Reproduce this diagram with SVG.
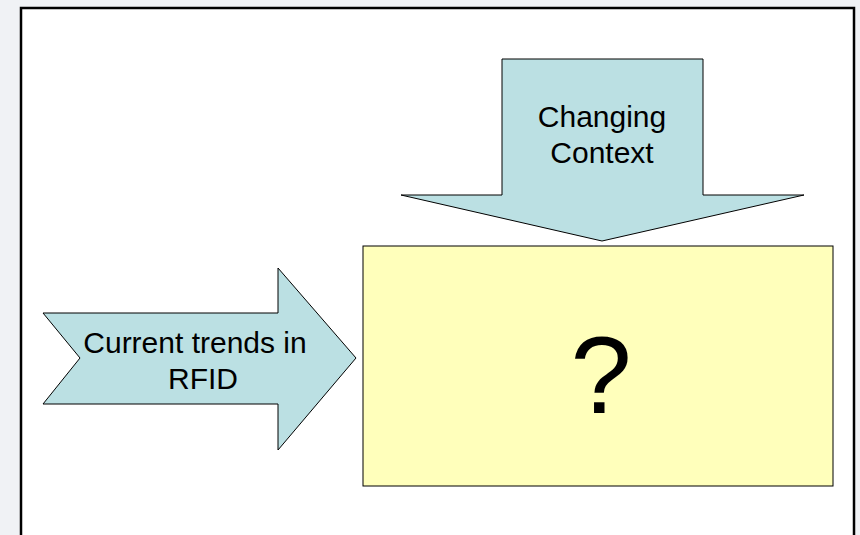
<svg xmlns="http://www.w3.org/2000/svg" width="860" height="535" viewBox="0 0 860 535">
<style>
.arrow{fill:#bbe0e3;stroke:#000;stroke-width:1}
.lbl{font-family:"Liberation Sans",Arial,sans-serif;font-size:30px;fill:#000;text-anchor:middle}
</style>
<rect x="0" y="0" width="860" height="535" fill="#f0f2f5"/>
<rect x="21" y="8" width="833" height="540" fill="#fff" stroke="#000" stroke-width="2.5"/>
<g id="box">
<rect x="363" y="246" width="470" height="240" fill="#ffffbb" stroke="#000" stroke-width="1"/>
<text x="601" y="413" font-family="Liberation Sans,Arial,sans-serif" font-size="110" text-anchor="middle">?</text>
</g>
<g id="context">
<polygon class="arrow" points="502,59 703,59 703,195 804,195 602,241 401,195 502,195"/>
<text class="lbl" x="602" y="127">Changing</text>
<text class="lbl" x="602" y="163">Context</text>
</g>
<g id="trends">
<polygon class="arrow" points="43,313 278,313 278,268 356,358 278,450 278,404 43,404 80,358"/>
<text class="lbl" x="195" y="353">Current trends in</text>
<text class="lbl" x="203" y="389">RFID</text>
</g>
<g id="connectors"/>
</svg>
